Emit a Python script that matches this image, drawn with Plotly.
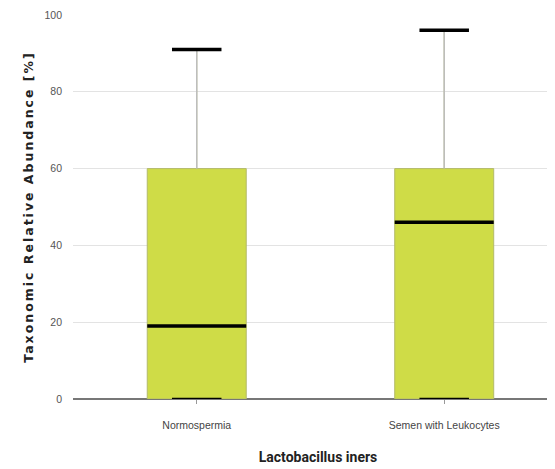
import plotly.graph_objects as go

categories = ["Normospermia", "Semen with Leukocytes"]
q1 = [0, 0]
median = [19, 46]
q3 = [60, 60]
lower = [0, 0]
upper = [91, 96]
y_ticks = [0, 20, 40, 60, 80, 100]

BOX_W = 0.4
CAP_HALF = 0.1
xs = list(range(len(categories)))

fig = go.Figure()

for i, cat in enumerate(categories):
    fig.add_trace(go.Box(
        x=[xs[i]], q1=[q1[i]], median=[median[i]], q3=[q3[i]],
        lowerfence=[lower[i]], upperfence=[upper[i]],
        width=BOX_W, fillcolor="#cfdc47",
        line=dict(color="#b3ba6a", width=1), whiskerwidth=0,
        boxpoints=False, showlegend=False, name=cat, hoverinfo="skip",
    ))

for i in xs:
    # upper whisker (grey)
    fig.add_trace(go.Scatter(
        x=[i, i], y=[q3[i], upper[i]],
        mode="lines", line=dict(color="#bdbdbd", width=1.5),
        showlegend=False, hoverinfo="skip",
    ))
    # median line
    fig.add_trace(go.Scatter(
        x=[i - BOX_W / 2, i + BOX_W / 2], y=[median[i], median[i]],
        mode="lines", line=dict(color="black", width=3.5),
        showlegend=False, hoverinfo="skip", cliponaxis=False,
    ))
    # upper cap
    fig.add_trace(go.Scatter(
        x=[i - CAP_HALF, i + CAP_HALF], y=[upper[i], upper[i]],
        mode="lines", line=dict(color="black", width=3.5),
        showlegend=False, hoverinfo="skip", cliponaxis=False,
    ))
    # lower cap
    fig.add_trace(go.Scatter(
        x=[i - CAP_HALF, i + CAP_HALF], y=[lower[i], lower[i]],
        mode="lines", line=dict(color="black", width=2.5),
        showlegend=False, hoverinfo="skip", cliponaxis=False,
    ))

fig.update_layout(
    width=555, height=469,
    margin=dict(l=65, r=0, t=7, b=78),
    paper_bgcolor="white", plot_bgcolor="white",
    showlegend=False,
    xaxis=dict(
        range=[-0.5, 1.48], tickmode="array", tickvals=xs, ticktext=categories,
        showgrid=False, zeroline=False, showline=False,
        ticks="outside", ticklen=4, tickcolor="#999", ticklabelstandoff=12,
        tickfont=dict(family="Liberation Sans, Arial", size=10.5, color="#444"),
        title=dict(text="<b>Lactobacillus iners</b>", standoff=22,
                   font=dict(family="Liberation Sans Narrow, Roboto, Arial", size=14, color="#222")),
    ),
    yaxis=dict(
        range=[0, 100], tickmode="array", tickvals=y_ticks,
        showgrid=True, gridcolor="#e3e3e3", gridwidth=1,
        zeroline=True, zerolinecolor="#777", zerolinewidth=1.5,
        showline=False, ticks="", ticklabelstandoff=10,
        tickfont=dict(family="Liberation Sans, Arial", size=10.5, color="#555"),
        title=dict(text='<span style="letter-spacing:2px"><b>Taxonomic Relative Abundance [%]</b></span>',
                   standoff=8,
                   font=dict(family="DejaVu Sans", size=12.5, color="#222")),
    ),
)

fig.write_html("out.html")
